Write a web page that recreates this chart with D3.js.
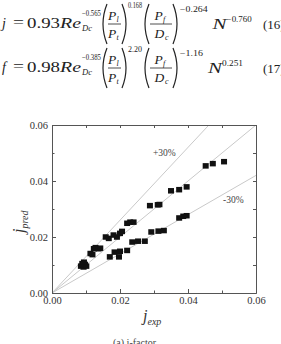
<!DOCTYPE html>
<html>
<head>
<meta charset="utf-8">
<script src="https://cdn.jsdelivr.net/npm/d3@7"></script>
<style>
	body { margin: 0; background: #fff; }
	svg { display: block; font-family: "Liberation Serif", "DejaVu Serif", serif; }
</style>
</head>
<body>
<div id="chart"></div>
<script>
// measured j values (experiment vs. correlation)
var jExp = [
	0.0085, 0.0089, 0.0093, 0.0097, 0.0101, 0.0094,
	0.0113, 0.0119, 0.0123, 0.0128, 0.0137, 0.0142,
	0.0158, 0.0167, 0.0181, 0.0191, 0.0200, 0.0206,
	0.0221, 0.0230, 0.0240, 0.0288, 0.0311, 0.0316,
	0.0350, 0.0374, 0.0396, 0.0452, 0.0473, 0.0506,
	0.0170, 0.0184, 0.0197, 0.0200, 0.0221,
	0.0236, 0.0253, 0.0273, 0.0292, 0.0313, 0.0329,
	0.0374, 0.0386, 0.0396
];
var jPred = [
	0.0096, 0.0105, 0.0093, 0.0102, 0.0096, 0.0110,
	0.0141, 0.0137, 0.0158, 0.0162, 0.0158, 0.0160,
	0.0200, 0.0195, 0.0207, 0.0200, 0.0213, 0.0220,
	0.0249, 0.0253, 0.0253, 0.0312, 0.0315, 0.0316,
	0.0365, 0.0369, 0.0379, 0.0454, 0.0462, 0.0469,
	0.0129, 0.0146, 0.0129, 0.0149, 0.0152,
	0.0182, 0.0185, 0.0185, 0.0218, 0.0221, 0.0223,
	0.0268, 0.0274, 0.0276
];
var majorTicks = [0, 0.02, 0.04, 0.06];
var minorTicks = [0.01, 0.03, 0.05];
var bandFactors = [1.3, 1.0, 0.7];
var bandLabels = ["+30%", "-30%"];

var W = 281, H = 344;
var plotL = 52, plotR = 256, plotT = 125, plotB = 293;

var svg = d3.select("#chart").append("svg").attr("width", W).attr("height", H);

// ---- equations (16) and (17) ----
function txt(x, y, s, size, w, italic) {
	var t = svg.append("text")
		.attr("x", x)
		.attr("y", y)
		.attr("font-size", size)
		.attr("fill", "#222")
		.text(s);
	if (italic) t.attr("font-style", "italic");
	if (w) t.attr("textLength", w).attr("lengthAdjust", "spacingAndGlyphs");
	return t;
}
function paren(x0, x1, y0, y1, open) {
	var a = open ? x1 : x0, b = open ? x0 - 2 : x1 + 2;
	svg.append("path")
		.attr("d", "M" + a + "," + y0 + " Q" + b + "," + (y0 + y1) / 2 + " " + a + "," + y1)
		.attr("fill", "none")
		.attr("stroke", "#222")
		.attr("stroke-width", 1.2);
}
function frac(x0, x1, yb, num, numSub, den, denSub) {
	var cx = (x0 + x1) / 2;
	svg.append("line").attr("x1", x0).attr("x2", x1).attr("y1", yb).attr("y2", yb)
		.attr("stroke", "#222").attr("stroke-width", 0.8);
	txt(cx - 6.5, yb - 4, num, 13.5, 0, true);
	txt(cx + 2, yb - 2, numSub, 8, 0, true);
	txt(cx - 6.5, yb + 14, den, 13.5, 0, true);
	txt(cx + (den == "D" ? 4 : 2), yb + 16, denSub, 8, 0, true);
}
function equation(y, lhs, coef, e1, e2, e3, e4, num) {
	txt(2, y, lhs, 14, 0, true);
	txt(13, y - 1, "=", 14, 11, false);
	txt(27, y, coef, 14, 33, false);
	txt(60, y, "Re", 14, 21, true);
	txt(82, y - 12, e1, 8.5, 19, false);
	txt(82, y + 3, "Dc", 7.5, 10, true);
	paren(101, 107, y - 24, y + 16, true);
	frac(108, 121, y - 4, "P", "l", "P", "t");
	paren(122, 128, y - 24, y + 16, false);
	txt(128, y - 20, e2, 8.5, 14, false);
	paren(143, 149, y - 24, y + 16, true);
	frac(150, 172, y - 4, "P", "f", "D", "c");
	paren(173, 179, y - 24, y + 16, false);
	txt(180, y - 16, e3, 8.5, e3.length * 4.6, false);
	var nx = 180 + e3.length * 4.6 + 5;
	txt(nx, y + 1, "N", 14, 14, true);
	txt(nx + 14, y - 6, e4, 8.5, e4.length * 4.2, false);
	txt(263, y + 1, num, 13, 0, false);
}
equation(28, "j", "0.93", "\u22120.565", "0.168", "\u22120.264", "\u22120.760", "(16)");
equation(72, "f", "0.98", "\u22120.385", "2.20", "\u22121.16", "0.251", "(17)");

// ---- scatter plot ----
var x = d3.scaleLinear().domain([0, 0.06]).range([plotL, plotR]);
var y = d3.scaleLinear().domain([0, 0.06]).range([plotB, plotT]);
var fmt = d3.format(".2f");

svg.append("clipPath").attr("id", "clip")
	.append("rect").attr("x", plotL).attr("y", plotT)
	.attr("width", plotR - plotL).attr("height", plotB - plotT);

var ref = svg.append("g").attr("clip-path", "url(#clip)");
bandFactors.forEach(function (k) {
	ref.append("line")
		.attr("x1", x(0)).attr("y1", y(0))
		.attr("x2", x(0.1)).attr("y2", y(0.1 * k))
		.attr("stroke", "#c9c9c9")
		.attr("stroke-width", 1);
});

function axisStyle(g) {
	g.selectAll("path, line").attr("stroke", "#555");
	g.selectAll("text").attr("font-size", 10.5).attr("fill", "#333")
		.attr("font-family", "Liberation Serif, serif");
}

svg.append("g").attr("transform", "translate(0," + plotB + ")")
	.call(d3.axisBottom(x).tickValues(majorTicks).tickSize(-4).tickSizeOuter(0).tickPadding(4).tickFormat(fmt))
	.call(axisStyle);
svg.append("g").attr("transform", "translate(0," + plotB + ")")
	.call(d3.axisBottom(x).tickValues(minorTicks).tickSize(-2.5).tickSizeOuter(0).tickFormat(""))
	.call(axisStyle);
svg.append("g").attr("transform", "translate(" + plotL + ",0)")
	.call(d3.axisLeft(y).tickValues(majorTicks).tickSize(-4).tickSizeOuter(0).tickPadding(4).tickFormat(fmt))
	.call(axisStyle);
svg.append("g").attr("transform", "translate(" + plotL + ",0)")
	.call(d3.axisLeft(y).tickValues(minorTicks).tickSize(-2.5).tickSizeOuter(0).tickFormat(""))
	.call(axisStyle);
svg.append("g").attr("transform", "translate(0," + plotT + ")")
	.call(d3.axisTop(x).tickValues(majorTicks.concat(minorTicks)).tickSize(-3).tickSizeOuter(0).tickFormat(""))
	.call(axisStyle);
svg.append("g").attr("transform", "translate(" + plotR + ",0)")
	.call(d3.axisRight(y).tickValues(majorTicks.concat(minorTicks)).tickSize(-3).tickSizeOuter(0).tickFormat(""))
	.call(axisStyle);

svg.append("g").selectAll("rect")
	.data(d3.range(jExp.length))
	.enter()
	.append("rect")
	.attr("x", function (i) { return x(jExp[i]) - 3; })
	.attr("y", function (i) { return y(jPred[i]) - 2.75; })
	.attr("width", 6)
	.attr("height", 5.5)
	.attr("fill", "#111");

txt(153, 156, bandLabels[0], 9.5, 0, false).attr("fill", "#444");
txt(223, 203, bandLabels[1], 9.5, 0, false).attr("fill", "#444");

// axis titles
var xl = svg.append("text").attr("x", 143).attr("y", 321).attr("fill", "#333")
	.attr("font-style", "italic").attr("font-size", 16);
xl.append("tspan").text("j");
xl.append("tspan").attr("font-size", 10).attr("dy", 4).text("exp");

var yl = svg.append("text").attr("transform", "translate(24,233) rotate(-90)")
	.attr("fill", "#333").attr("font-style", "italic").attr("font-size", 16);
yl.append("tspan").text("j");
yl.append("tspan").attr("font-size", 10).attr("dy", 4).text("pred");

svg.append("text").attr("x", 113).attr("y", 346).attr("font-size", 10)
	.attr("fill", "#444").text("(a) j-factor");
</script>
</body>
</html>
